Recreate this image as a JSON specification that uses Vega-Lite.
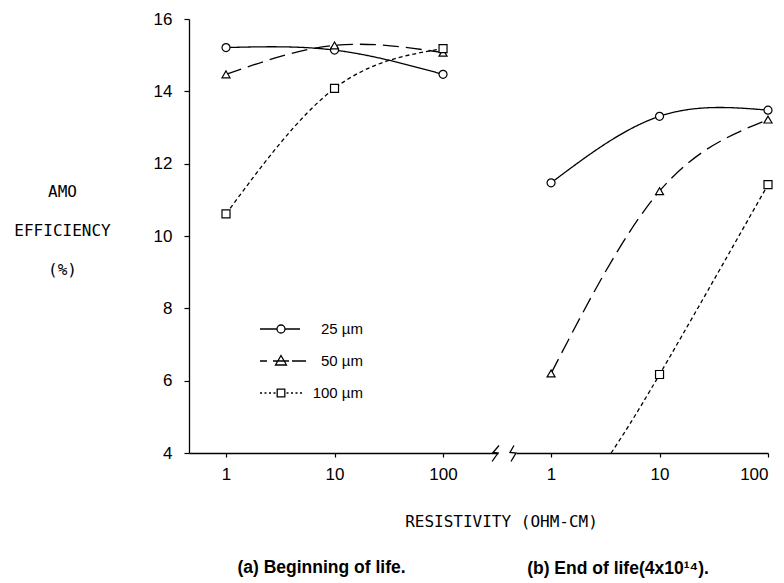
{
  "$schema": "https://vega.github.io/schema/vega-lite/v6.json",
  "padding": {"left": 13, "top": 10, "right": 5, "bottom": 5},
  "background": "white",
  "bounds": "flush",
  "config": {
    "view": {"stroke": null},
    "axis": {"grid": false, "domainColor": "black", "tickColor": "black", "labelColor": "black", "titleColor": "black", "domainWidth": 1.3, "tickWidth": 1.2},
    "title": {"color": "black"}
  },
  "datasets": {
    "curves": [
      {"stage": "a", "thickness": "25 µm", "resistivity": 1, "efficiency": 15.21, "marker": true},
      {"stage": "a", "thickness": "25 µm", "resistivity": 10, "efficiency": 15.14, "marker": true},
      {"stage": "a", "thickness": "25 µm", "resistivity": 100, "efficiency": 14.47, "marker": true},
      {"stage": "a", "thickness": "50 µm", "resistivity": 1, "efficiency": 14.47, "marker": true},
      {"stage": "a", "thickness": "50 µm", "resistivity": 10, "efficiency": 15.27, "marker": true},
      {"stage": "a", "thickness": "50 µm", "resistivity": 100, "efficiency": 15.07, "marker": true},
      {"stage": "a", "thickness": "100 µm", "resistivity": 1, "efficiency": 10.61, "marker": true},
      {"stage": "a", "thickness": "100 µm", "resistivity": 10, "efficiency": 14.08, "marker": true},
      {"stage": "a", "thickness": "100 µm", "resistivity": 100, "efficiency": 15.18, "marker": true},
      {"stage": "b", "thickness": "25 µm", "resistivity": 1, "efficiency": 11.47, "marker": true},
      {"stage": "b", "thickness": "25 µm", "resistivity": 10, "efficiency": 13.31, "marker": true},
      {"stage": "b", "thickness": "25 µm", "resistivity": 100, "efficiency": 13.48, "marker": true},
      {"stage": "b", "thickness": "50 µm", "resistivity": 1, "efficiency": 6.2, "marker": true},
      {"stage": "b", "thickness": "50 µm", "resistivity": 10, "efficiency": 11.24, "marker": true},
      {"stage": "b", "thickness": "50 µm", "resistivity": 100, "efficiency": 13.22, "marker": true},
      {"stage": "b", "thickness": "100 µm", "resistivity": 3.58, "efficiency": 4, "marker": false},
      {"stage": "b", "thickness": "100 µm", "resistivity": 10, "efficiency": 6.17, "marker": true},
      {"stage": "b", "thickness": "100 µm", "resistivity": 100, "efficiency": 11.42, "marker": true}
    ],
    "breaks": [
      {"stage": "a", "step": 1, "resistivity": 328, "efficiency": 4.207},
      {"stage": "a", "step": 2, "resistivity": 289, "efficiency": 4.014},
      {"stage": "a", "step": 3, "resistivity": 321, "efficiency": 4.0},
      {"stage": "a", "step": 4, "resistivity": 283, "efficiency": 3.765},
      {"stage": "b", "step": 1, "resistivity": 0.455, "efficiency": 4.207},
      {"stage": "b", "step": 2, "resistivity": 0.418, "efficiency": 4.014},
      {"stage": "b", "step": 3, "resistivity": 0.475, "efficiency": 4.0},
      {"stage": "b", "step": 4, "resistivity": 0.427, "efficiency": 3.765}
    ]
  },
  "spacing": 18,
  "hconcat": [
    {
      "width": 309,
      "height": 434,
      "layer": [
        {
          "data": {"name": "curves"},
          "transform": [{"filter": "datum.stage == 'a'"}],
          "mark": {"type": "line", "interpolate": "natural", "color": "black", "strokeWidth": 1.3},
          "encoding": {
            "x": {
              "field": "resistivity", "type": "quantitative",
              "scale": {"type": "log", "domain": [0.456, 321], "nice": false},
              "axis": {
                "values": [1, 10, 100], "format": "~g", "tickSize": 4, "labelPadding": 9,
                "labelFont": "Liberation Sans, Arial, sans-serif", "labelFontSize": 17,
                "title": "(a) Beginning of life.", "titleX": 132, "titleY": 114.5, "titleAlign": "center", "titleBaseline": "middle",
                "titleFont": "Liberation Sans, Arial, sans-serif", "titleFontSize": 17.5, "titleFontWeight": "bold"
              }
            },
            "y": {
              "field": "efficiency", "type": "quantitative",
              "scale": {"domain": [4, 16], "nice": false, "zero": false},
              "axis": {
                "values": [4, 5, 6, 7, 8, 9, 10, 11, 12, 13, 14, 15, 16], "format": "d",
                "labelExpr": "datum.value % 2 == 0 ? datum.label : ''",
                "tickSize": 5, "labelPadding": 12,
                "labelFont": "Liberation Sans, Arial, sans-serif", "labelFontSize": 17,
                "title": ["AMO", "EFFICIENCY", "(%)"], "titleAngle": 0, "titleAlign": "center", "titleBaseline": "middle",
                "titleX": -127, "titleY": 172.5, "titleLineHeight": 39,
                "titleFont": "DejaVu Sans Mono, monospace", "titleFontSize": 16, "titleFontWeight": "normal"
              }
            },
            "strokeDash": {
              "field": "thickness", "type": "nominal",
              "scale": {"domain": ["25 µm", "50 µm", "100 µm"], "range": [[1, 0], [16, 7], [4, 3]]},
              "legend": null
            }
          }
        },
        {
          "data": {"name": "curves"},
          "transform": [{"filter": "datum.stage == 'a' && datum.marker"}],
          "mark": {"type": "point", "filled": true, "fill": "white", "stroke": "black", "strokeWidth": 1.2, "size": 64, "opacity": 1},
          "encoding": {
            "x": {"field": "resistivity", "type": "quantitative"},
            "y": {"field": "efficiency", "type": "quantitative"},
            "shape": {
              "field": "thickness", "type": "nominal",
              "scale": {"domain": ["25 µm", "50 µm", "100 µm"], "range": ["circle", "triangle-up", "square"]},
              "legend": null
            }
          }
        },
        {
          "data": {"name": "curves"},
          "transform": [{"filter": "datum.stage == 'legend only'"}],
          "mark": {"type": "point", "filled": false, "color": "black", "strokeWidth": 1.3, "opacity": 1},
          "encoding": {
            "x": {"field": "resistivity", "type": "quantitative"},
            "y": {"field": "efficiency", "type": "quantitative"},
            "shape": {
              "field": "thickness", "type": "nominal",
              "scale": {
                "domain": ["25 µm", "50 µm", "100 µm"],
                "range": [
                  "M-2.1,0H-0.4M0.4,0H1.9M0.4,0A0.4,0.4 0 1,1 -0.4,0A0.4,0.4 0 1,1 0.4,0Z",
                  "M-2.1,0H-1.4M-0.8,0H0.8M1.1,0H2.5M0,-0.55L0.55,0.4L-0.55,0.4Z",
                  "M-2.1,0H-1.9M-1.65,0H-1.45M-1.2,0H-1.0M-0.75,0H-0.55M0.55,0H0.75M1.0,0H1.2M1.45,0H1.65M1.9,0H2.1M-0.38,-0.38H0.38V0.38H-0.38Z"
                ]
              },
              "legend": {
                "title": null, "orient": "none", "legendX": 81, "legendY": 299, "padding": 0,
                "symbolSize": 400, "rowPadding": 13, "labelAlign": "right", "labelOffset": 71,
                "symbolStrokeColor": "black", "symbolStrokeWidth": 1.3, "symbolOpacity": 1,
                "labelFont": "Liberation Sans, Arial, sans-serif", "labelFontSize": 15, "labelColor": "black"
              }
            }
          }
        },
        {
          "data": {"name": "breaks"},
          "transform": [{"filter": "datum.stage == 'a'"}],
          "mark": {"type": "line", "color": "black", "strokeWidth": 1.3, "clip": false},
          "encoding": {
            "x": {"field": "resistivity", "type": "quantitative"},
            "y": {"field": "efficiency", "type": "quantitative"},
            "order": {"field": "step", "type": "quantitative"}
          }
        }
      ],
      "resolve": {"scale": {"shape": "independent"}}
    },
    {
      "width": 252,
      "height": 434,
      "title": {
        "text": "(b) End of life(4x10¹⁴).", "orient": "bottom", "anchor": "middle", "dx": -24, "offset": 30,
        "font": "Liberation Sans, Arial, sans-serif", "fontSize": 17.5, "fontWeight": "bold", "color": "black"
      },
      "layer": [
        {
          "data": {"name": "curves"},
          "transform": [{"filter": "datum.stage == 'b'"}],
          "mark": {"type": "line", "interpolate": "natural", "color": "black", "strokeWidth": 1.3},
          "encoding": {
            "x": {
              "field": "resistivity", "type": "quantitative",
              "scale": {"type": "log", "domain": [0.475, 100], "nice": false},
              "axis": {
                "values": [1, 10, 100], "format": "~g", "tickSize": 4, "labelPadding": 9,
                "labelFont": "Liberation Sans, Arial, sans-serif", "labelFontSize": 17,
                "title": "RESISTIVITY (OHM-CM)", "titleX": -15, "titleY": 68.5, "titleAlign": "center", "titleBaseline": "middle",
                "titleFont": "DejaVu Sans Mono, monospace", "titleFontSize": 16, "titleFontWeight": "normal"
              }
            },
            "y": {
              "field": "efficiency", "type": "quantitative",
              "scale": {"domain": [4, 16], "nice": false, "zero": false},
              "axis": null
            },
            "strokeDash": {
              "field": "thickness", "type": "nominal",
              "scale": {"domain": ["25 µm", "50 µm", "100 µm"], "range": [[1, 0], [16, 7], [4, 3]]},
              "legend": null
            }
          }
        },
        {
          "data": {"name": "curves"},
          "transform": [{"filter": "datum.stage == 'b' && datum.marker"}],
          "mark": {"type": "point", "filled": true, "fill": "white", "stroke": "black", "strokeWidth": 1.2, "size": 64, "opacity": 1},
          "encoding": {
            "x": {"field": "resistivity", "type": "quantitative"},
            "y": {"field": "efficiency", "type": "quantitative"},
            "shape": {
              "field": "thickness", "type": "nominal",
              "scale": {"domain": ["25 µm", "50 µm", "100 µm"], "range": ["circle", "triangle-up", "square"]},
              "legend": null
            }
          }
        },
        {
          "data": {"name": "breaks"},
          "transform": [{"filter": "datum.stage == 'b'"}],
          "mark": {"type": "line", "color": "black", "strokeWidth": 1.3, "clip": false},
          "encoding": {
            "x": {"field": "resistivity", "type": "quantitative"},
            "y": {"field": "efficiency", "type": "quantitative"},
            "order": {"field": "step", "type": "quantitative"}
          }
        }
      ]
    }
  ]
}
